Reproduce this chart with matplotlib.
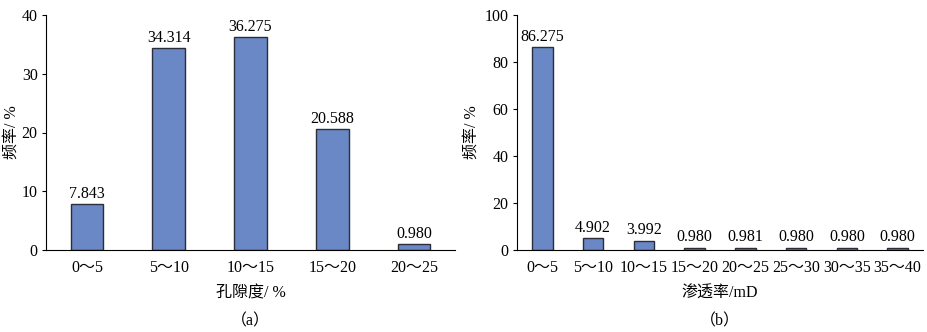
import matplotlib.pyplot as plt

plt.rcParams['font.family'] = ['Liberation Serif', 'Noto Sans CJK SC']
plt.rcParams['font.size'] = 11.5

# porosity distribution
por_cats = ['0～5', '5～10', '10～15', '15～20', '20～25']
por_vals = [7.843, 34.314, 36.275, 20.588, 0.980]
por_labels = ['7.843', '34.314', '36.275', '20.588', '0.980']

# permeability distribution
perm_cats = ['0～5', '5～10', '10～15', '15～20', '20～25', '25～30', '30～35', '35～40']
perm_vals = [86.275, 4.902, 3.992, 0.980, 0.981, 0.980, 0.980, 0.980]
perm_labels = ['86.275', '4.902', '3.992', '0.980', '0.981', '0.980', '0.980', '0.980']

bar_color = '#6a88c6'
edge_color = '#2b2d3a'

fig = plt.figure(figsize=(9.27, 3.32), dpi=100)
ax1 = fig.add_axes([46/927, 1-250/332, 409/927, 235/332])
ax2 = fig.add_axes([517/927, 1-250/332, 406/927, 235/332])


def draw(ax, cats, vals, labels, ymax, yticks, xlabel, tag, ylab_x):
    x = range(len(cats))
    ax.bar(x, vals, width=0.4, color=bar_color, edgecolor=edge_color, linewidth=1.0)
    for xi, v, lab in zip(x, vals, labels):
        ax.text(xi, v + ymax*0.01, lab, ha='center', va='bottom')
    ax.set_xlim(-0.5, len(cats) - 0.5)
    ax.set_ylim(0, ymax)
    ax.set_yticks(yticks)
    ax.set_xticks(list(x))
    ax.set_xticklabels(cats)
    ax.tick_params(axis='x', length=0, pad=7)
    ax.tick_params(axis='y', length=3, direction='out', pad=3)
    for s in ['top', 'right']:
        ax.spines[s].set_visible(False)
    ax.spines['left'].set_linewidth(0.8)
    ax.spines['bottom'].set_linewidth(0.8)
    ax.set_ylabel('频率/ %')
    ax.yaxis.set_label_coords(ylab_x, 0.5)
    ax.set_xlabel(xlabel, labelpad=7)
    ax.text(0.5, -0.305, tag, transform=ax.transAxes, ha='center', va='center')


draw(ax1, por_cats, por_vals, por_labels, 40, [0, 10, 20, 30, 40], '孔隙度/ %', '（a）', -0.064)
draw(ax2, perm_cats, perm_vals, perm_labels, 100, [0, 20, 40, 60, 80, 100], '渗透率/mD', '（b）', -0.091)

fig.savefig('out.png', dpi=100)
